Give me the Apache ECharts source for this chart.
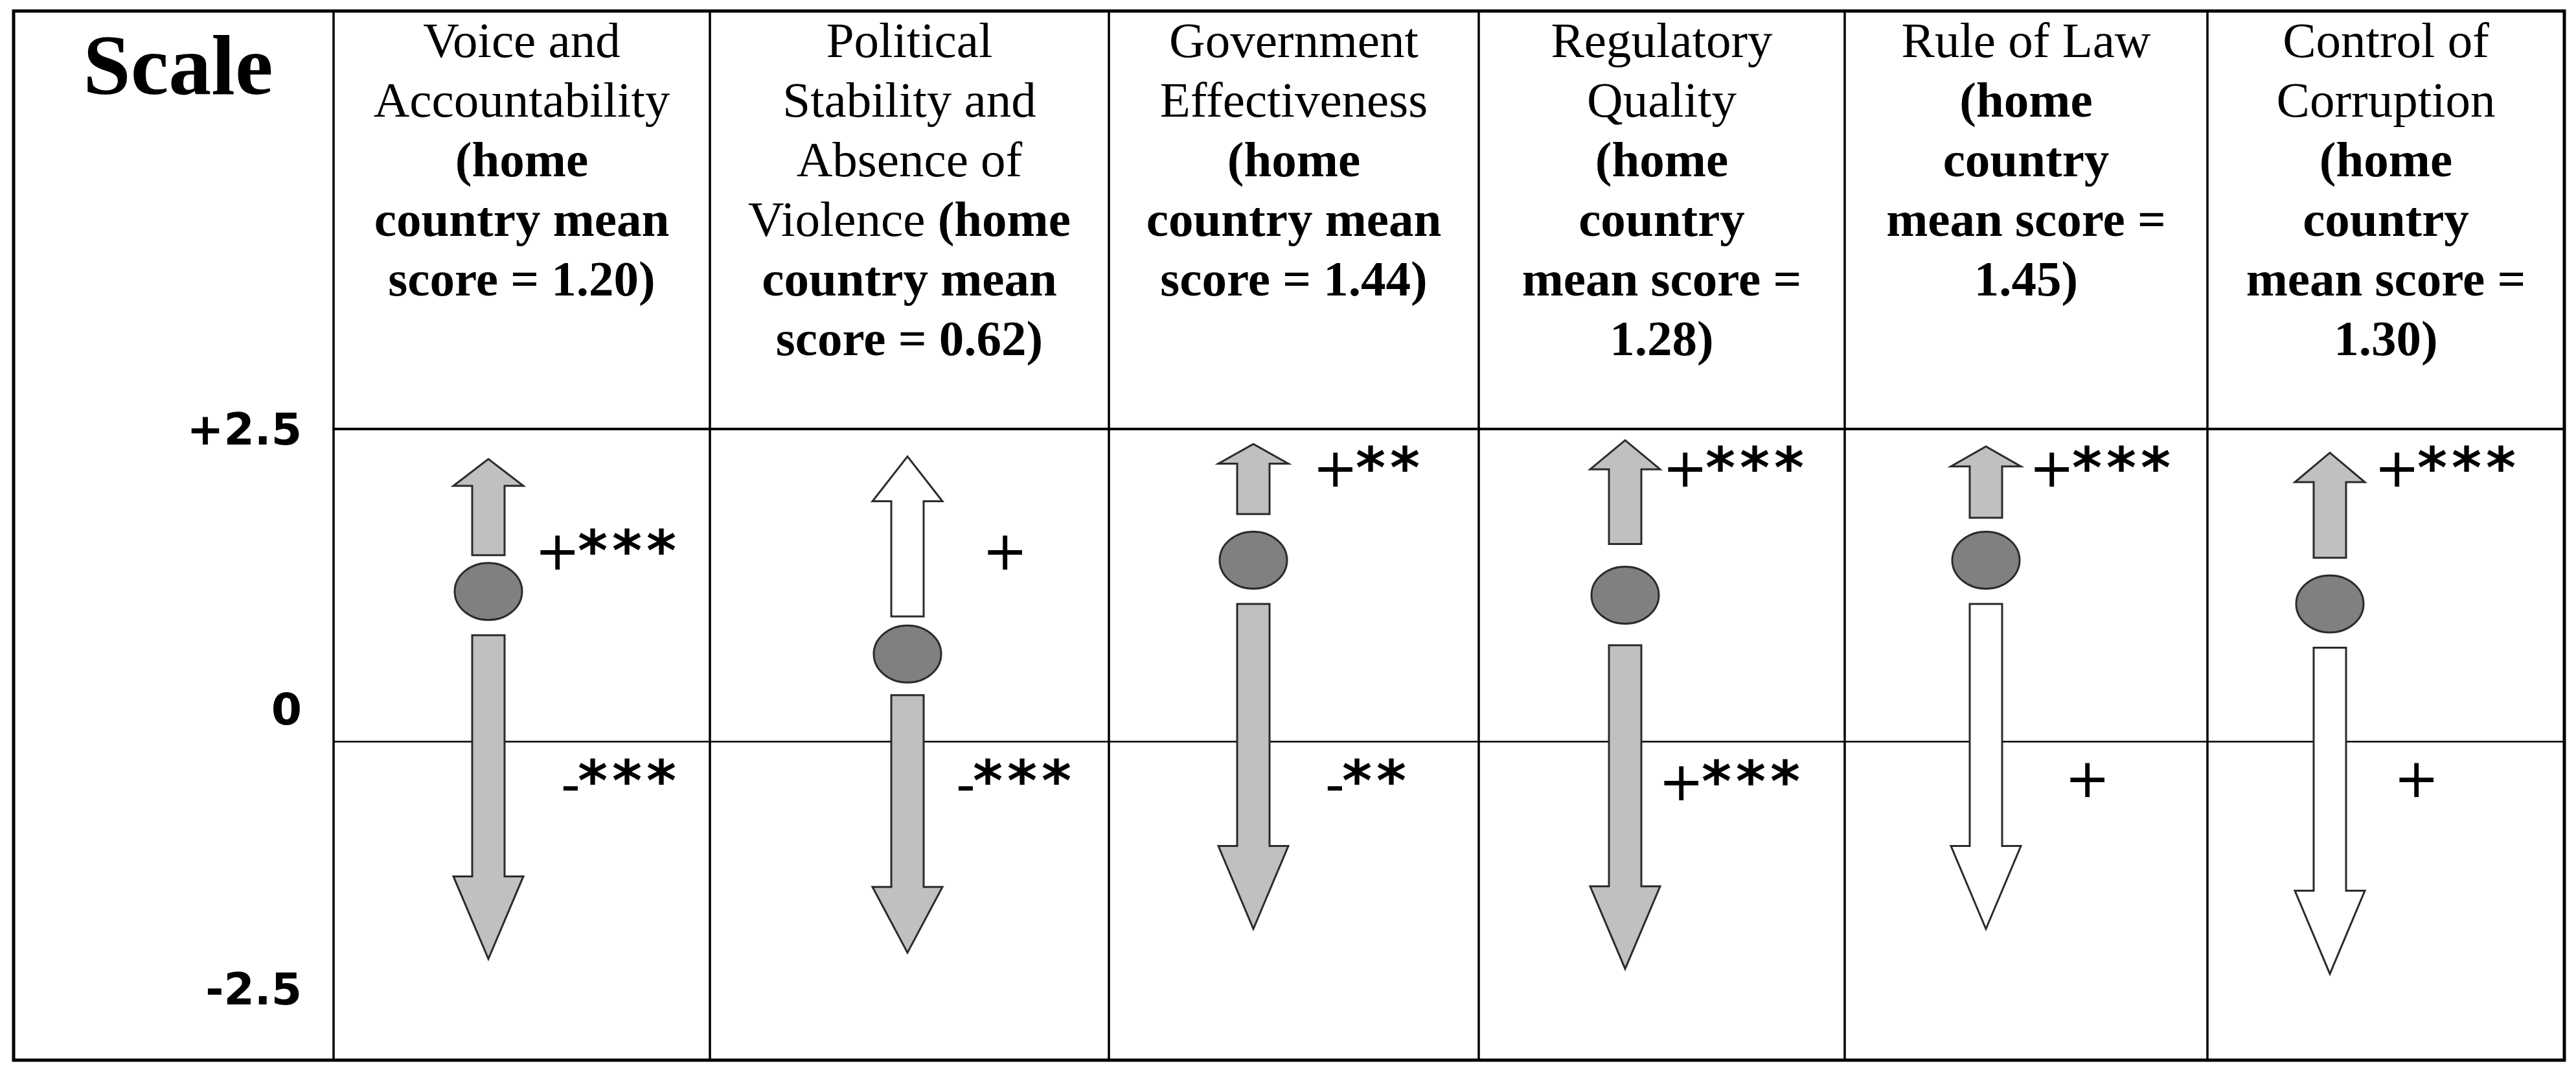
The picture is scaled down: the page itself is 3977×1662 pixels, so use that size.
<!DOCTYPE html>
<html>
<head>
<meta charset="utf-8">
<title>Scale</title>
<script src="https://cdn.jsdelivr.net/npm/echarts@6/dist/echarts.min.js"></script>
<style>
  html, body { margin: 0; padding: 0; background: #fff; }
  #chart { width: 3977px; height: 1662px; }
</style>
</head>
<body>
<div id="chart"></div>
<script>
// table columns, left to right
var dimensions = ['Voice and Accountability', 'Political Stability and Absence of Violence',
  'Government Effectiveness', 'Regulatory Quality', 'Rule of Law', 'Control of Corruption'];
var homeMean = [1.20, 0.62, 1.44, 1.28, 1.45, 1.30];
// header wording as the table breaks it, # = home country mean
var headerLines = [
  'Voice and\nAccountability\n{b|(home}\n{b|country mean}\n{b|score = #)}',
  'Political\nStability and\nAbsence of\nViolence {b|(home}\n{b|country mean}\n{b|score = #)}',
  'Government\nEffectiveness\n{b|(home}\n{b|country mean}\n{b|score = #)}',
  'Regulatory\nQuality\n{b|(home}\n{b|country}\n{b|mean score =}\n{b|#)}',
  'Rule of Law\n{b|(home}\n{b|country}\n{b|mean score =}\n{b|#)}',
  'Control of\nCorruption\n{b|(home}\n{b|country}\n{b|mean score =}\n{b|#)}'
];
var scaleTicks = [2.5, 0, -2.5];

var dotScore = [1.20, 0.70, 1.45, 1.17, 1.45, 1.10];
var upFrom   = [1.49, 1.00, 1.82, 1.58, 1.79, 1.47];
var upTo     = [2.26, 2.28, 2.38, 2.41, 2.36, 2.31];
var downFrom = [0.85, 0.37, 1.10, 0.77, 1.10, 0.75];
var downTo   = [-1.74, -1.69, -1.50, -1.82, -1.50, -1.86];
var upSig    = ['+***', '+', '+**', '+***', '+***', '+***'];
var downSig  = ['-***', '-***', '-**', '+***', '+', '+'];

// layout
var colWidths  = [581, 616, 571, 565, 560, 551];
var arrowInset = [239, 305, 223, 226, 218, 189];
var upLabelDx   = [144, 188, 164, 130, 139, 141];
var upLabelAt   = [1.49, 1.49, 2.15, 2.15, 2.15, 2.15];
var downLabelDx = [144, 107, 143, 124, 194, 171];
var downLabelAt = [-0.35, -0.35, -0.35, -0.36, -0.33, -0.33];
var frame = { left: 21, top: 17, right: 3959, bottom: 1636 };

var edges = [0];
colWidths.forEach(function (w, i) { edges.push(edges[i] + w); });
var total = edges[edges.length - 1];
var centers = colWidths.map(function (w, i) { return edges[i] + w / 2; });
var arrowX = arrowInset.map(function (d, i) { return edges[i] + d; });

var GRAY = '#c0c0c0', EDGE = '#2b2b2b';

function arrowShape(x, y0, y1, ratio, fill) {
  var dir = y1 < y0 ? 1 : -1;          // 1 = pointing up
  var h = Math.abs(y1 - y0) * ratio;
  var s = 25, w = 54, yb = y1 + dir * h;
  return {
    type: 'polygon',
    shape: { points: [[x - s, y0], [x - s, yb], [x - w, yb], [x, y1], [x + w, yb], [x + s, yb], [x + s, y0]] },
    style: { fill: fill, stroke: EDGE, lineWidth: 3 }
  };
}

function sigMarks(x, y, label) {
  var sign = label.charAt(0);
  var els = [{
    type: 'text', x: x - 2, y: y + (sign === '-' ? 6 : 0),
    style: { text: sign, font: '84px "DejaVu Sans"', fill: '#000',
      align: 'right', verticalAlign: 'middle', textAlign: 'right', textVerticalAlign: 'middle' }
  }];
  for (var k = 1; k < label.length; k++) {
    els.push({
      type: 'text', x: x - 6 + (k - 1) * 53, y: y,
      style: { text: '*', font: 'bold 88px "DejaVu Sans"', fill: '#000',
        align: 'left', verticalAlign: 'middle', textAlign: 'left', textVerticalAlign: 'middle' }
    });
  }
  return els;
}

function renderColumn(params, api) {
  var i = params.dataIndex;
  var cx = api.coord([api.value(0), 0])[0];
  var py = function (v) { return api.coord([0, v])[1]; };
  var kids = [];
  kids.push(arrowShape(cx, py(api.value(2)), py(api.value(3)), 0.28, upSig[i].length > 1 ? GRAY : '#fff'));
  kids.push(arrowShape(cx, py(api.value(4)), py(api.value(5)), 0.255, downSig[i].length > 1 ? GRAY : '#fff'));
  kids.push({
    type: 'ellipse',
    shape: { cx: cx, cy: py(api.value(1)), rx: 52, ry: 44 },
    style: { fill: '#808080', stroke: EDGE, lineWidth: 3 }
  });
  kids = kids.concat(sigMarks(cx + upLabelDx[i], py(upLabelAt[i]), upSig[i]));
  kids = kids.concat(sigMarks(cx + downLabelDx[i], py(downLabelAt[i]), downSig[i]));
  return { type: 'group', children: kids };
}

var chart = echarts.init(document.getElementById('chart'));
var option = {
  animation: false,
  backgroundColor: '#fff',
  title: {
    text: 'Scale', left: 270, top: 40, textAlign: 'center',
    textStyle: { fontFamily: 'Liberation Serif', fontSize: 132, fontWeight: 'bold', color: '#000' }
  },
  grid: { left: 515, right: 3977 - frame.right, top: 662, bottom: 1662 - frame.bottom },
  xAxis: {
    type: 'value', position: 'top', min: 0, max: total,
    axisLine: { show: true, onZero: false, lineStyle: { color: '#000', width: 4 } },
    axisTick: { show: false },
    splitLine: { show: false },
    axisLabel: {
      customValues: centers,
      margin: 640,
      verticalAlign: 'top',
      align: 'center',
      fontFamily: 'Liberation Serif', fontSize: 77, lineHeight: 92, color: '#000',
      rich: { b: { fontFamily: 'Liberation Serif', fontSize: 77, fontWeight: 'bold', lineHeight: 92, color: '#000' } },
      formatter: function (v) {
        var i = 0;
        centers.forEach(function (c, k) { if (Math.abs(c - v) < Math.abs(centers[i] - v)) i = k; });
        return headerLines[i].replace('#', homeMean[i].toFixed(2));
      }
    }
  },
  yAxis: [{
    type: 'value', min: -2.55, max: 2.5, show: false
  }, {
    type: 'value', min: -3.10, max: 2.534, position: 'left',
    axisLine: { show: false }, axisTick: { show: false }, splitLine: { show: false },
    axisLabel: {
      customValues: scaleTicks, margin: 49,
      fontFamily: 'DejaVu Sans', fontWeight: 'bold', fontSize: 68, color: '#000',
      formatter: function (v) { return v > 0 ? '+' + v : String(v); }
    }
  }],
  series: [{
    type: 'line', data: [], yAxisIndex: 0, z: 1,
    markLine: {
      silent: true, symbol: ['none', 'none'], label: { show: false },
      lineStyle: { color: '#000', width: 2.5, type: 'solid' },
      data: [{ yAxis: 0 }]
    }
  }, {
    type: 'custom', yAxisIndex: 0, z: 10,
    renderItem: renderColumn,
    encode: { x: 0, y: 1 },
    data: dimensions.map(function (d, i) {
      return [arrowX[i], dotScore[i], upFrom[i], upTo[i], downFrom[i], downTo[i]];
    })
  }]
};
chart.setOption(option);

// table rules
var lines = [{
  type: 'rect',
  shape: { x: frame.left, y: frame.top, width: frame.right - frame.left, height: frame.bottom - frame.top },
  style: { fill: 'none', stroke: '#000', lineWidth: 5 }
}];
edges.slice(0, -1).forEach(function (e) {
  var x = chart.convertToPixel({ xAxisIndex: 0 }, e);
  lines.push({
    type: 'line',
    shape: { x1: x, y1: frame.top, x2: x, y2: frame.bottom },
    style: { stroke: '#000', lineWidth: 3.5 }
  });
});
chart.setOption({ graphic: lines });
</script>
</body>
</html>
